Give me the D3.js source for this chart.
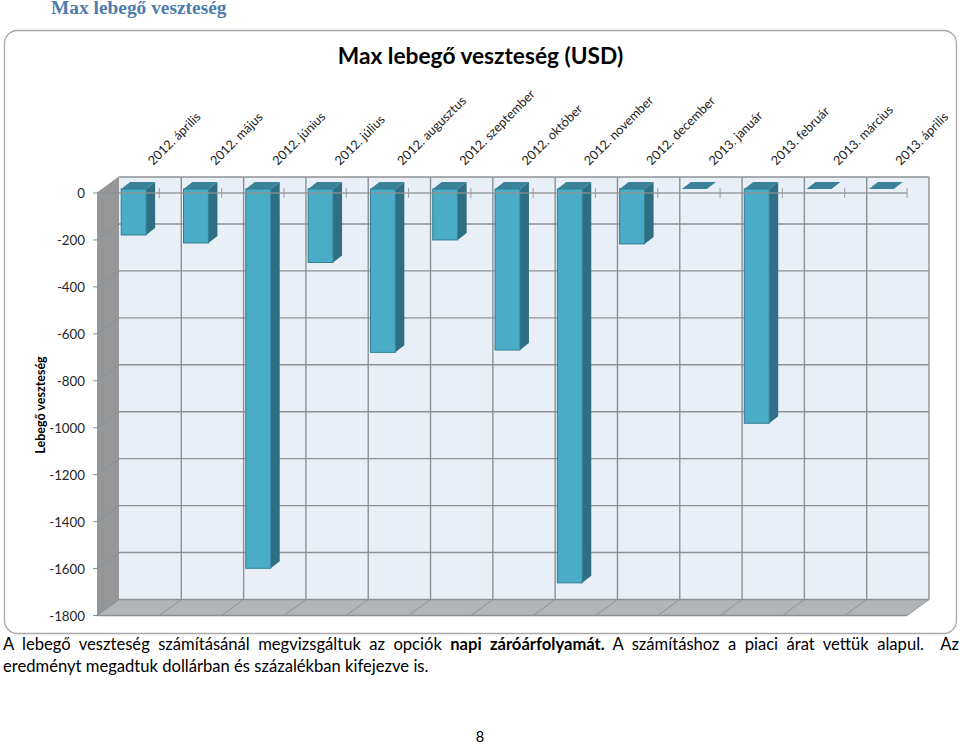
<!DOCTYPE html>
<html><head><meta charset="utf-8">
<script src="https://cdnjs.cloudflare.com/ajax/libs/d3/7.8.5/d3.min.js"></script>
<style>html,body{margin:0;padding:0;background:#fff}svg{display:block}text{font-family:Lato,"Open Sans",sans-serif}</style>
</head><body><svg id="c" width="960" height="745"></svg>
<script>
const categories=["2012. április","2012. május","2012. június","2012. július","2012. augusztus","2012. szeptember","2012. október","2012. november","2012. december","2013. január","2013. február","2013. március","2013. április"];
const values=[-196,-230,-1616,-313,-696,-217,-686,-1678,-234,0,-998,0,0];
const yTicks=[0,-200,-400,-600,-800,-1000,-1200,-1400,-1600,-1800];
const heading="Max lebegő veszteség";
const chartTitle="Max lebegő veszteség (USD)";
const yTitle="Lebegő veszteség";
const bodyLine1=[["A lebegő veszteség számításánál megvizsgáltuk az opciók ",400],["napi záróárfolyamát.",700],[" A számításhoz a piaci árat vettük alapul.  Az",400]];
const bodyLine2="eredményt megadtuk dollárban és százalékban kifejezve is.";
const pageNo="8";

const svg=d3.select("#c");
const L=97,R=907,DX=22,DY=-16;
const x=d3.scaleBand().domain(categories).range([L,R]);
const y=d3.scaleLinear().domain([0,-1800]).range([193,615.5]);
const bw=x.bandwidth(), grid="#8e9194";
const pts=a=>a.map(p=>p.join(",")).join(" ");

svg.append("text").attr("x",51).attr("y",14).text(heading).style("font-family","'Liberation Serif',serif").style("font-weight",700).style("font-size","19.4px").attr("fill","#4f7cac");
svg.append("rect").attr("x",4.5).attr("y",30.5).attr("width",952).attr("height",603).attr("rx",13).attr("fill","#fff").attr("stroke","#a9a9a9").attr("stroke-width",1.3);
svg.append("text").attr("x",480.5).attr("y",64).attr("text-anchor","middle").text(chartTitle).style("font-size","22.7px").style("font-weight",700).attr("fill","#000");

// walls
const y0=y(0),yB=y(-1800);
svg.append("polygon").attr("points",pts([[L+DX,y0+DY],[R+DX,y0+DY],[R+DX,yB+DY],[L+DX,yB+DY]])).attr("fill","#e9eff7");
svg.append("polygon").attr("points",pts([[L,y0],[L+DX,y0+DY],[L+DX,yB+DY],[L,yB]])).attr("fill","#949698");
svg.append("polygon").attr("points",pts([[L,yB],[L+DX,yB+DY],[R+DX,yB+DY],[R,yB]])).attr("fill","#b2b5b7");

// gridlines
const g=svg.append("g").attr("stroke",grid).attr("fill","none");
g.selectAll(".h").data(yTicks).join("line").attr("x1",L+DX).attr("x2",R+DX).attr("y1",d=>y(d)+DY).attr("y2",d=>y(d)+DY).attr("stroke-width",1.4);
g.selectAll(".wl").data(yTicks).join("polyline").attr("points",d=>pts([[L-4,y(d)],[L,y(d)],[L+DX,y(d)+DY]])).attr("stroke-width",1).attr("stroke","#8b8e90");
const edges=categories.map(c=>x(c)+bw);
g.selectAll(".v").data(edges.slice(0,-1)).join("line").attr("x1",d=>d+DX).attr("x2",d=>d+DX).attr("y1",y0+DY).attr("y2",yB+DY).attr("stroke-width",1.4);
g.selectAll(".f").data([L].concat(edges)).join("polyline").attr("points",d=>pts([[d,yB],[d+DX,yB+DY]])).attr("stroke-width",1);
g.append("line").attr("x1",R+DX).attr("x2",R+DX).attr("y1",y0+DY).attr("y2",yB+DY).attr("stroke-width",1.4);
g.append("line").attr("x1",L).attr("x2",R).attr("y1",yB).attr("y2",yB).attr("stroke-width",1.4);

// bars
const barW=bw*0.4, off=[5.5,-4], d3x=9, d3y=-7;
const bars=svg.append("g").selectAll("g").data(categories.map((c,i)=>({c,v:values[i]}))).join("g");
const bx=d=>x(d.c)+bw/2-barW/2+off[0];
bars.filter(d=>d.v<0).append("polygon").attr("points",d=>{const a=bx(d)+barW,t=y0+off[1],b=y(d.v)+off[1];return pts([[a,t],[a+d3x,t+d3y],[a+d3x,b+d3y],[a,b]]);}).attr("fill","#2f6f84");
bars.append("polygon").attr("points",d=>{const a=bx(d),t=y0+off[1];return pts([[a,t],[a+d3x,t+d3y],[a+barW+d3x,t+d3y],[a+barW,t]]);}).attr("fill","#3a8299");
bars.filter(d=>d.v<0).append("rect").attr("x",bx).attr("y",y0+off[1]).attr("width",barW).attr("height",d=>y(d.v)-y0).attr("fill","#4bacc8").attr("stroke","#2f7f96").attr("stroke-width",1);

// front zero axis with ticks
const ax=svg.append("g").attr("stroke",grid).attr("stroke-opacity",0.85);
ax.append("line").attr("x1",L).attr("x2",R).attr("y1",y0).attr("y2",y0).attr("stroke-width",1.4);
ax.selectAll(".t").data(edges).join("line").attr("x1",d=>d).attr("x2",d=>d).attr("y1",y0-5).attr("y2",y0+5).attr("stroke-width",1);

// y axis labels
const yA=svg.append("g").attr("transform",`translate(${L-4},0)`).call(d3.axisLeft(y).tickValues(yTicks).tickSize(0).tickPadding(8).tickFormat(d=>String(d)));
yA.select(".domain").remove();
yA.selectAll("text").style("font-size","13.3px").style("font-family","Lato").attr("fill","#262626").attr("dy","0.36em");

// x axis labels
const xA=svg.append("g").attr("transform","translate(0,166)").call(d3.axisTop(x).tickSize(0));
xA.select(".domain").remove();
xA.selectAll("text").attr("text-anchor","start").attr("transform","translate(25,0) rotate(-45)").attr("x",0).attr("y",0).attr("dy",0).style("font-size","12.7px").style("font-family","Lato").attr("fill","#1a1a1a");

svg.append("text").attr("transform","translate(45,405) rotate(-90)").attr("text-anchor","middle").text(yTitle).style("font-size","12.5px").style("font-weight",700).attr("fill","#000");

// body text
const t1=svg.append("text").attr("x",3).attr("y",650).style("font-size","16.6px").attr("fill","#000").style("white-space","pre");
t1.selectAll("tspan").data(bodyLine1).join("tspan").text(d=>d[0]).style("font-weight",d=>d[1]);
const target=956, len=t1.node().getComputedTextLength();
const gaps=bodyLine1.map(d=>d[0]).join("").split(" ").length-1;
t1.style("word-spacing",((target-len)/gaps)+"px");
svg.append("text").attr("x",3).attr("y",672).text(bodyLine2).style("font-size","16.6px").attr("fill","#000");
svg.append("text").attr("x",480).attr("y",742).attr("text-anchor","middle").text(pageNo).style("font-size","14.5px").attr("fill","#000");
</script></body></html>
